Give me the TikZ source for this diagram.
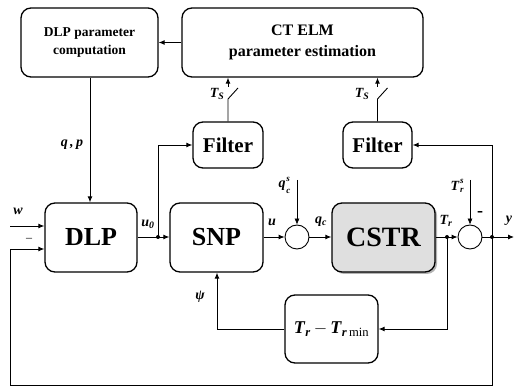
\documentclass[tikz,border=0pt]{standalone}
\usepackage{fontspec}
\setmainfont{Liberation Serif}
\usetikzlibrary{arrows.meta,shadows}
\newcommand{\bi}[1]{\textbf{\textit{#1}}}
\begin{document}
\begin{tikzpicture}[x=1pt,y=-1pt,
  blk/.style={draw,line width=1.3pt,rounded corners=10pt,align=center,font=\bfseries,inner sep=0pt},
  con/.style={line width=0.9pt,-{Latex[length=6pt,width=5pt]}},
  ln/.style={line width=0.9pt},
  thin/.style={line width=0.5pt,-{Latex[length=6pt,width=5pt]}},
  sumc/.style={draw,circle,line width=0.9pt,minimum size=24pt,inner sep=0pt},
  dot/.style={circle,fill,inner sep=0pt,minimum size=4pt},
  lbl/.style={font=\bfseries\itshape\fontsize{14}{14}\selectfont,inner sep=0pt},
  idx/.style={font=\bfseries\itshape\fontsize{9}{9}\selectfont,inner sep=0pt}]
\useasboundingbox (0,0) rectangle (514,387);
% blocks
\node[blk,minimum width=137pt,minimum height=69pt,font=\bfseries\fontsize{13.5}{18}\selectfont] (dlpp) at (89.5,42.5) {DLP parameter\\computation};
\node[blk,minimum width=241pt,minimum height=69pt,font=\bfseries\fontsize{16}{21}\selectfont] (ctelm) at (302.5,42.5) {CT ELM\\parameter estimation};
\node[blk,minimum width=70pt,minimum height=46pt,font=\bfseries\fontsize{21}{21}\selectfont] (f1) at (228,145) {Filter};
\node[blk,minimum width=69pt,minimum height=46pt,font=\bfseries\fontsize{21}{21}\selectfont] (f2) at (377.5,145) {Filter};
\node[blk,minimum width=92pt,minimum height=69pt,font=\bfseries\fontsize{26}{26}\selectfont] (dlp) at (91,237.5) {DLP};
\node[blk,minimum width=93pt,minimum height=69pt,font=\bfseries\fontsize{26}{26}\selectfont] (snp) at (216.5,237.5) {SNP};
\node[blk,minimum width=103pt,minimum height=69pt,fill=gray!25,drop shadow={shadow xshift=2pt,shadow yshift=-2pt,opacity=0.6},font=\bfseries\fontsize{28}{28}\selectfont] (cstr) at (383.5,237.5) {CSTR};
\node[blk,minimum width=93pt,minimum height=68pt,font=\fontsize{18}{18}\selectfont] (trb) at (331.5,329) {\bi{T}\textsubscript{\bi{r}}\,$-$\,\bi{T}\textsubscript{\bi{r}\,min}};
\node[sumc] (s1) at (297,237) {};
\node[sumc] (s2) at (470,237) {};
% coordinates
\coordinate (u0j) at (158,237);
\coordinate (trj) at (447,237);
\coordinate (yj) at (492,237);
\coordinate (yout) at (514,237);
\coordinate (win) at (10,226);
\coordinate (qcs) at (297,180);
\coordinate (trs) at (470,180);
\coordinate (sw1a) at (228,99);
\coordinate (sw1b) at (238,88);
\coordinate (sw1c) at (228,87);
\coordinate (sw2a) at (377.5,99);
\coordinate (sw2b) at (387.5,88);
\coordinate (sw2c) at (377.5,87);
% connectors
\draw[con] (ctelm.west) -- (dlpp.east);
\draw[con] (dlpp.south -| 90,0) -- (dlp.north -| 90,0);
\draw[con] (win) -- (win -| dlp.west);
\draw[con] (yj) -- (492,385.5) -- (10,385.5) -- (10,249) -- (dlp.west |- 0,249);
\draw[con] (dlp.east |- u0j) -- (snp.west |- u0j);
\draw[con] (u0j) |- (f1.west);
\draw[ln] (f1.north) -- (sw1a) -- (sw1b);
\draw[con] (sw1c) -- (ctelm.south -| sw1c);
\draw[ln] (f2.north) -- (sw2a) -- (sw2b);
\draw[con] (sw2c) -- (ctelm.south -| sw2c);
\draw[con] (snp.east |- s1) -- (s1.west);
\draw[thin] (qcs) -- (s1.north);
\draw[con] (s1.east) -- (cstr.west |- s1);
\draw[con] (cstr.east |- s2) -- (s2.west);
\draw[thin] (trs) -- (s2.north);
\draw[con] (s2.east) -- (yout);
\draw[con] (yj) |- (f2.east);
\draw[con] (trj) |- (trb.east);
\draw[con] (trb.west) -| (snp.south -| 217,0);
\node[dot] at (u0j) {};
\node[dot] at (trj) {};
\node[dot] at (yj) {};
% labels
\node[lbl] at (72,145) {q\,,\,p};
\node[lbl] at (18,211) {w};
\node[inner sep=0pt,font=\fontsize{12}{12}\selectfont] at (29,240) {--};
\node[lbl] at (148,224) {u\textsubscript{0}};
\node[lbl] at (217,94) {T\textsubscript{S}};
\node[lbl] at (362,94) {T\textsubscript{S}};
\node[lbl] at (272,222) {u};
\node[lbl] (qcb) at (282,186) {q};
\node[idx,anchor=south west] at ([xshift=0.5pt,yshift=-1pt]qcb.north east) {s};
\node[idx,anchor=north west] at ([xshift=0.5pt,yshift=1.5pt]qcb.south east) {c};
\node[lbl] at (321,222) {q\textsubscript{c}};
\node[lbl] (trsb) at (455,186) {T};
\node[idx,anchor=south west] at ([xshift=0.5pt,yshift=-3pt]trsb.north east) {s};
\node[idx,anchor=north west] at ([xshift=0.5pt,yshift=3pt]trsb.south east) {r};
\node[lbl] at (446,221) {T\textsubscript{r}};
\node[inner sep=0pt,font=\bfseries\fontsize{18}{18}\selectfont] at (480,214) {-};
\node[lbl] at (509,221) {y};
\node[lbl] at (200,297) {ψ};
\end{tikzpicture}
\end{document}
